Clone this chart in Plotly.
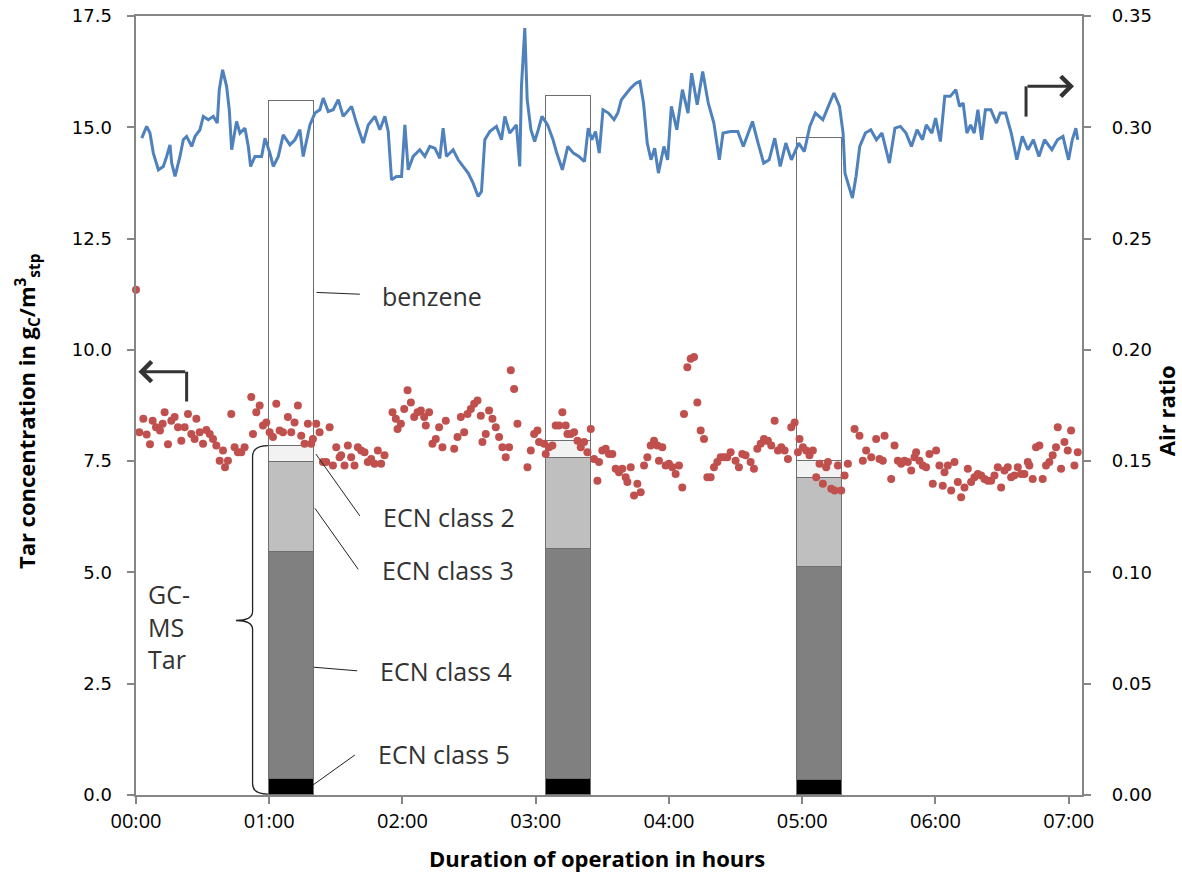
import plotly.graph_objects as go

# ---------------- data ----------------
bar_time = [1.167, 3.245, 5.13]
ecn5 = [0.36, 0.36, 0.34]
ecn4 = [5.11, 5.16, 4.79]
ecn3 = [2.02, 2.06, 1.99]
ecn2 = [0.36, 0.38, 0.38]
benzene = [7.75, 7.75, 7.25]

tick_vals = [0, 1, 2, 3, 4, 5, 6, 7]
tick_text = ["00:00", "01:00", "02:00", "03:00", "04:00", "05:00", "06:00", "07:00"]

air_time = [0.043, 0.080, 0.105, 0.130, 0.168, 0.205, 0.230, 0.255, 0.268, 0.293, 0.330, 0.355,
            0.380, 0.418, 0.443, 0.480, 0.505, 0.543, 0.580, 0.610, 0.625, 0.650, 0.680, 0.700,
            0.718, 0.755, 0.780, 0.818, 0.843, 0.860, 0.893, 0.943, 0.968, 1.005, 1.030, 1.068,
            1.105, 1.155, 1.193, 1.230, 1.255, 1.280, 1.305, 1.343, 1.380, 1.405, 1.443, 1.480,
            1.518, 1.555, 1.618, 1.655, 1.705, 1.743, 1.793, 1.830, 1.868, 1.893, 1.918, 1.955,
            1.993, 2.018, 2.043, 2.080, 2.130, 2.168, 2.205, 2.243, 2.280, 2.305, 2.330, 2.380,
            2.418, 2.455, 2.493, 2.530, 2.568, 2.593, 2.618, 2.655, 2.705, 2.743, 2.768, 2.805,
            2.855, 2.880, 2.893, 2.918, 2.936, 2.964, 2.992, 3.019, 3.047, 3.089, 3.130, 3.158,
            3.200, 3.241, 3.283, 3.324, 3.366, 3.394, 3.421, 3.449, 3.477, 3.505, 3.546, 3.588,
            3.616, 3.643, 3.685, 3.713, 3.754, 3.782, 3.809, 3.837, 3.865, 3.893, 3.921, 3.962,
            3.990, 4.018, 4.059, 4.101, 4.143, 4.170, 4.212, 4.253, 4.295, 4.337, 4.378, 4.406,
            4.461, 4.517, 4.558, 4.627, 4.669, 4.711, 4.752, 4.794, 4.835, 4.877, 4.919, 4.974,
            5.016, 5.057, 5.099, 5.155, 5.196, 5.238, 5.280, 5.307, 5.321, 5.349, 5.377, 5.404,
            5.432, 5.474, 5.515, 5.557, 5.599, 5.654, 5.696, 5.737, 5.779, 5.820, 5.862, 5.903,
            5.931, 5.973, 6.001, 6.037, 6.070, 6.111, 6.153, 6.181, 6.208, 6.236, 6.264, 6.291,
            6.319, 6.347, 6.375, 6.416, 6.458, 6.486, 6.527, 6.569, 6.611, 6.652, 6.694, 6.735,
            6.777, 6.819, 6.874, 6.916, 6.957, 6.999, 7.027, 7.054, 7.068]
air_ratio = [0.2951, 0.3004, 0.2974, 0.2884, 0.2809, 0.2824, 0.2869, 0.2921, 0.2839, 0.2779, 0.2869, 0.2944,
             0.2959, 0.2914, 0.2959, 0.2989, 0.3049, 0.3034, 0.3049, 0.3019, 0.3169, 0.3258, 0.3184, 0.3079,
             0.2899, 0.3026, 0.2974, 0.2996, 0.2914, 0.2824, 0.2869, 0.2869, 0.2951, 0.2884, 0.2824, 0.2869,
             0.2966, 0.2921, 0.2944, 0.2989, 0.2869, 0.2944, 0.3011, 0.3064, 0.3079, 0.3131, 0.3071, 0.3079,
             0.3124, 0.3049, 0.3094, 0.3019, 0.2929, 0.3011, 0.3049, 0.2989, 0.3049, 0.2981, 0.2764, 0.2779,
             0.2779, 0.3011, 0.2809, 0.2869, 0.2899, 0.2869, 0.2914, 0.2906, 0.2861, 0.2996, 0.2869, 0.2899,
             0.2854, 0.2824, 0.2794, 0.2749, 0.2689, 0.2712, 0.2944, 0.2981, 0.3004, 0.2944, 0.3049, 0.2974,
             0.3011, 0.2824, 0.3184, 0.3446, 0.3124, 0.2989, 0.2936, 0.2989, 0.3049, 0.3011, 0.2944, 0.2884,
             0.2809, 0.2914, 0.2884, 0.2869, 0.2846, 0.2996, 0.2944, 0.2981, 0.2884, 0.3079, 0.3064, 0.3034,
             0.3064, 0.3124, 0.3154, 0.3176, 0.3199, 0.3206, 0.3109, 0.2929, 0.2854, 0.2906, 0.2794, 0.2914,
             0.2854, 0.3094, 0.2989, 0.3169, 0.3064, 0.3243, 0.3101, 0.3251, 0.3109, 0.3019, 0.2854, 0.2974,
             0.2981, 0.2981, 0.2914, 0.3026, 0.2929, 0.2839, 0.2854, 0.2951, 0.2824, 0.2929, 0.2854, 0.2929,
             0.2891, 0.3004, 0.3064, 0.3034, 0.3094, 0.3154, 0.3094, 0.2974, 0.2794, 0.2734, 0.2682, 0.2779,
             0.2914, 0.2974, 0.2989, 0.2944, 0.2974, 0.2839, 0.2996, 0.3004, 0.2974, 0.2914, 0.2989, 0.2944,
             0.3011, 0.2974, 0.3041, 0.2936, 0.3139, 0.3139, 0.3169, 0.3094, 0.3109, 0.2974, 0.3011, 0.2974,
             0.3079, 0.2944, 0.3079, 0.3079, 0.3019, 0.3064, 0.3064, 0.2974, 0.2854, 0.2959, 0.2899, 0.2944,
             0.2869, 0.2944, 0.2899, 0.2944, 0.2959, 0.2854, 0.2944, 0.2996, 0.2944]

tar_time = [0.000, 0.025, 0.055, 0.080, 0.105, 0.125, 0.150, 0.180, 0.200, 0.215, 0.240, 0.265,
            0.290, 0.315, 0.340, 0.365, 0.390, 0.415, 0.440, 0.453, 0.478, 0.503, 0.528, 0.553,
            0.578, 0.603, 0.628, 0.653, 0.668, 0.690, 0.715, 0.740, 0.765, 0.790, 0.815, 0.865,
            0.878, 0.903, 0.928, 0.953, 0.978, 1.003, 1.028, 1.053, 1.078, 1.103, 1.140, 1.165,
            1.190, 1.215, 1.240, 1.265, 1.290, 1.315, 1.328, 1.353, 1.378, 1.403, 1.428, 1.453,
            1.478, 1.503, 1.528, 1.540, 1.565, 1.590, 1.615, 1.640, 1.665, 1.690, 1.715, 1.740,
            1.765, 1.790, 1.815, 1.840, 1.865, 1.925, 1.950, 1.963, 1.988, 2.013, 2.038, 2.063,
            2.088, 2.113, 2.138, 2.163, 2.175, 2.200, 2.225, 2.250, 2.275, 2.300, 2.325, 2.388,
            2.413, 2.438, 2.463, 2.488, 2.513, 2.538, 2.563, 2.588, 2.600, 2.625, 2.650, 2.675,
            2.700, 2.725, 2.750, 2.775, 2.800, 2.813, 2.838, 2.863, 2.938, 2.963, 2.988, 3.013,
            3.025, 3.063, 3.075, 3.100, 3.125, 3.150, 3.175, 3.200, 3.225, 3.238, 3.263, 3.288,
            3.313, 3.338, 3.363, 3.388, 3.413, 3.438, 3.463, 3.475, 3.500, 3.525, 3.550, 3.575,
            3.600, 3.625, 3.650, 3.675, 3.688, 3.713, 3.738, 3.763, 3.788, 3.813, 3.838, 3.863,
            3.888, 3.913, 3.925, 3.950, 3.975, 4.000, 4.025, 4.050, 4.075, 4.100, 4.113, 4.138,
            4.163, 4.188, 4.213, 4.238, 4.263, 4.288, 4.313, 4.338, 4.363, 4.388, 4.413, 4.438,
            4.463, 4.500, 4.525, 4.550, 4.575, 4.613, 4.638, 4.663, 4.688, 4.713, 4.718, 4.743,
            4.768, 4.793, 4.818, 4.843, 4.868, 4.893, 4.918, 4.943, 4.968, 4.980, 5.005, 5.030,
            5.055, 5.080, 5.105, 5.130, 5.155, 5.180, 5.193, 5.218, 5.243, 5.268, 5.293, 5.318,
            5.343, 5.393, 5.430, 5.455, 5.480, 5.518, 5.555, 5.580, 5.605, 5.618, 5.668, 5.693,
            5.718, 5.743, 5.768, 5.793, 5.818, 5.843, 5.855, 5.880, 5.905, 5.930, 5.955, 5.980,
            6.005, 6.030, 6.055, 6.068, 6.093, 6.118, 6.143, 6.168, 6.193, 6.218, 6.243, 6.268,
            6.293, 6.318, 6.343, 6.368, 6.393, 6.418, 6.443, 6.468, 6.493, 6.518, 6.543, 6.568,
            6.593, 6.618, 6.643, 6.668, 6.693, 6.705, 6.730, 6.755, 6.780, 6.805, 6.830, 6.855,
            6.880, 6.905, 6.918, 6.943, 6.968, 6.993, 7.018, 7.043, 7.068]
tar_conc = [11.35, 8.15, 8.45, 8.10, 7.88, 8.41, 8.26, 8.19, 8.34, 8.60, 7.88, 8.41,
            8.49, 8.26, 7.96, 8.26, 8.56, 8.11, 8.00, 8.45, 8.15, 7.89, 8.20, 8.11,
            8.00, 7.85, 7.51, 7.74, 7.36, 7.51, 8.56, 7.81, 7.70, 7.70, 7.81, 8.94,
            8.11, 8.60, 8.75, 8.30, 8.37, 8.15, 8.04, 8.79, 8.19, 8.15, 8.49, 8.15,
            8.37, 8.75, 8.07, 7.89, 8.34, 7.89, 8.00, 8.34, 8.15, 7.48, 7.48, 8.26,
            7.40, 7.81, 7.59, 7.63, 7.40, 7.85, 7.59, 7.40, 7.81, 7.74, 7.70, 7.48,
            7.55, 7.44, 7.74, 7.44, 7.63, 8.60, 8.45, 8.22, 8.34, 8.67, 9.09, 8.82,
            8.49, 8.60, 8.64, 8.49, 8.30, 8.60, 7.89, 8.00, 8.26, 7.81, 8.41, 7.78,
            8.04, 8.49, 8.15, 8.56, 8.67, 8.79, 8.86, 8.52, 7.93, 8.11, 8.64, 8.45,
            8.26, 8.04, 7.81, 7.59, 7.81, 9.54, 9.12, 8.34, 7.36, 7.74, 8.11, 8.19,
            7.93, 7.89, 7.66, 7.81, 7.85, 8.30, 8.30, 8.60, 8.30, 8.11, 8.11, 8.15,
            7.96, 7.81, 7.93, 7.70, 8.22, 7.55, 7.06, 7.48, 7.74, 7.78, 7.66, 7.66,
            7.33, 7.25, 7.33, 7.14, 7.03, 7.36, 6.73, 6.99, 6.80, 7.40, 7.59, 7.85,
            7.96, 7.85, 7.51, 7.81, 7.40, 7.44, 7.36, 7.21, 7.40, 6.91, 8.56, 9.61,
            9.80, 9.84, 8.82, 8.19, 8.00, 7.14, 7.14, 7.36, 7.48, 7.59, 7.59, 7.59,
            7.70, 7.51, 7.36, 7.66, 7.63, 7.48, 7.33, 7.78, 7.89, 8.00, 7.96, 7.96,
            7.85, 8.41, 7.74, 7.81, 7.74, 7.55, 8.26, 8.37, 7.70, 8.00, 7.81, 7.74,
            7.63, 7.74, 7.14, 7.44, 6.99, 7.36, 7.48, 6.88, 6.84, 7.40, 6.84, 7.18,
            7.44, 8.22, 8.07, 7.51, 7.74, 7.59, 8.00, 7.55, 7.51, 8.07, 7.10, 7.85,
            7.51, 7.44, 7.51, 7.48, 7.29, 7.59, 7.70, 7.51, 7.40, 7.36, 7.66, 6.99,
            7.74, 7.40, 6.95, 7.25, 7.40, 6.84, 7.48, 7.03, 6.69, 6.91, 7.33, 7.03,
            7.14, 7.21, 7.18, 7.10, 7.06, 7.06, 7.18, 7.36, 6.91, 7.29, 7.36, 7.14,
            7.18, 7.36, 7.21, 7.21, 7.48, 7.40, 7.10, 7.81, 7.85, 7.10, 7.40, 7.48,
            7.63, 7.81, 8.26, 7.33, 7.93, 7.74, 8.19, 7.40, 7.70]

# ---------------- figure ----------------
fig = go.Figure()

bar_line = dict(color="#6e6e6e", width=1)
for name, vals, col in [("ECN class 5", ecn5, "#000000"),
                        ("ECN class 4", ecn4, "#808080"),
                        ("ECN class 3", ecn3, "#BFBFBF"),
                        ("ECN class 2", ecn2, "#F2F2F2"),
                        ("benzene", benzene, "#FFFFFF")]:
    fig.add_trace(go.Bar(x=bar_time, y=vals, width=0.335, name=name,
                         marker=dict(color=col, line=bar_line), yaxis="y"))

fig.add_trace(go.Scatter(x=tar_time, y=tar_conc, mode="markers", name="Tar",
                         marker=dict(color="#C0504D", size=8), cliponaxis=False, yaxis="y"))

fig.add_trace(go.Scatter(x=air_time, y=air_ratio, mode="lines", name="Air ratio",
                         line=dict(color="#4F81BD", width=3), yaxis="y2"))

axis_col = "#868686"
nb = "\u00a0"
fig.update_layout(
    width=1182, height=877,
    margin=dict(l=136, r=100, t=16, b=82, pad=0),
    paper_bgcolor="white", plot_bgcolor="white",
    barmode="stack", bargap=0, showlegend=False,
    xaxis=dict(range=[0, 7.1], tickvals=tick_vals, ticktext=tick_text, automargin=False,
               showgrid=False, zeroline=False, showline=True, linecolor=axis_col, linewidth=2,
               mirror=True, ticks="outside", ticklen=7, tickcolor=axis_col, tickwidth=1.5,
               ticklabeloverflow="allow",
               tickfont=dict(family="Open Sans", size=20, color="#000")),
    yaxis=dict(range=[0, 17.5], dtick=2.5, tick0=0, tickformat=".1f", automargin=False,
               showgrid=False, zeroline=False, showline=True, linecolor=axis_col, linewidth=2,
               ticks="outside", ticklen=7, tickcolor=axis_col, tickwidth=1.5,
               ticksuffix=nb * 2, ticklabeloverflow="allow",
               tickfont=dict(family="DejaVu Sans", size=18, color="#000")),
    yaxis2=dict(range=[0, 0.35], dtick=0.05, tick0=0, tickformat=".2f", automargin=False,
                overlaying="y", side="right",
                showgrid=False, zeroline=False, showline=True, linecolor=axis_col, linewidth=2,
                ticks="outside", ticklen=7, tickcolor=axis_col, tickwidth=1.5,
                tickprefix=nb * 3, ticklabeloverflow="allow",
                tickfont=dict(family="DejaVu Sans", size=18, color="#000")),
)

# axis titles
fig.add_annotation(text="<b>Duration of operation in hours</b>", xref="paper", yref="paper",
                   x=0.487, y=-0.081, showarrow=False, yanchor="middle",
                   font=dict(family="Open Sans", size=22, color="#000"))
fig.add_annotation(text="<b>Tar concentration in g<sub>C</sub>/m<sup>3</sup><sub>stp</sub></b>",
                   xref="paper", yref="paper", x=-0.114, y=0.493, textangle=-90, showarrow=False,
                   xanchor="center", yanchor="middle",
                   font=dict(family="Open Sans", size=22, color="#000"))
fig.add_annotation(text="<b>Air ratio</b>", xref="paper", yref="paper", x=1.089, y=0.493,
                   textangle=-90, showarrow=False, xanchor="center", yanchor="middle",
                   font=dict(family="Open Sans", size=22, color="#000"))

# labels with leader lines
lab_font = dict(family="Open Sans", size=25, color="#333")
labels = [("benzene", 1.83, 11.21, (1.355, 11.29, 1.68, 11.25)),
          ("ECN class 2", 1.838, 6.25, (1.350, 7.66, 1.68, 6.27)),
          ("ECN class 3", 1.830, 5.06, (1.343, 6.44, 1.668, 5.07)),
          ("ECN class 4", 1.815, 2.79, (1.335, 2.87, 1.660, 2.79)),
          ("ECN class 5", 1.800, 0.92, (1.326, 0.22, 1.643, 0.90))]
for txt, lx, ly, (x0, y0, x1, y1) in labels:
    fig.add_annotation(text=txt, x=lx, y=ly, xref="x", yref="y", showarrow=False,
                       xanchor="left", yanchor="middle", font=lab_font)
    fig.add_shape(type="line", xref="x", yref="y", x0=x0, y0=y0, x1=x1, y1=y1,
                  line=dict(color="#222", width=1))

# GC-MS Tar brace
fig.add_annotation(text="GC-<br>MS<br>Tar", x=0.075, y=3.78, xref="x", yref="y", showarrow=False,
                   xanchor="left", yanchor="middle", align="left", font=lab_font)
fig.add_shape(type="path", xref="x", yref="y",
              path="M 0.99,7.85 Q 0.875,7.85 0.875,7.6 L 0.875,4.12 Q 0.875,3.92 0.75,3.92 "
                   "Q 0.875,3.92 0.875,3.72 L 0.875,0.25 Q 0.875,0.02 0.99,0.02",
              line=dict(color="#222", width=1.3))

# elbow arrows
arrow_col = "#333"
fig.add_shape(type="line", xref="x", yref="y", x0=0.38, y0=8.84, x1=0.38, y1=9.51,
              line=dict(color=arrow_col, width=3))
fig.add_annotation(x=0.018, y=9.51, ax=0.38, ay=9.51, xref="x", yref="y", axref="x", ayref="y",
                   showarrow=True, arrowhead=4, arrowsize=1.3, arrowwidth=3, arrowcolor=arrow_col, text="")
fig.add_shape(type="line", xref="x", yref="y", x0=6.68, y0=15.24, x1=6.68, y1=15.92,
              line=dict(color=arrow_col, width=3))
fig.add_annotation(x=7.04, y=15.92, ax=6.68, ay=15.92, xref="x", yref="y", axref="x", ayref="y",
                   showarrow=True, arrowhead=4, arrowsize=1.3, arrowwidth=3, arrowcolor=arrow_col, text="")

# remove the browser's default 8px body margin so the figure fills the window exactly
fig.write_html("out.html", config={"displayModeBar": False},
               post_script="document.body.style.margin='0px';")
